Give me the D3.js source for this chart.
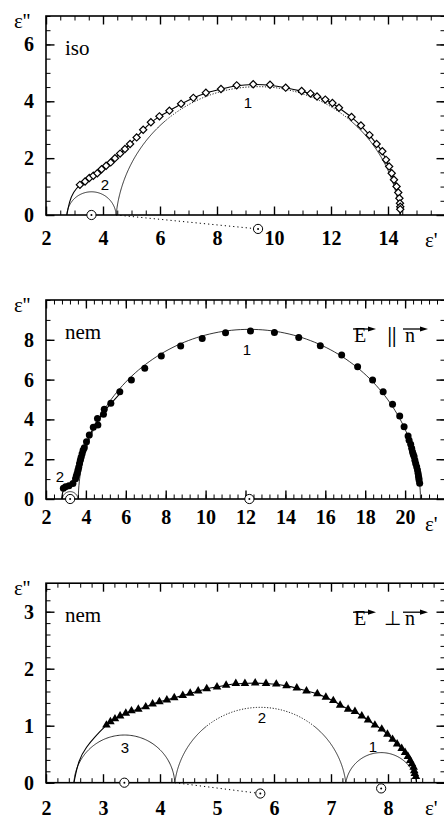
<!DOCTYPE html>
<html><head><meta charset="utf-8">
<script src="https://cdn.jsdelivr.net/npm/d3@7"></script>
<style>body{margin:0;background:#fff}svg{display:block}</style>
</head><body><svg id="c" width="444" height="820"></svg>
<script>
// ---------------- DATA ----------------
// Panel 1: isotropic phase (open diamonds)
const isoPoints = [[3.19,1.06],[3.37,1.18],[3.52,1.30],[3.66,1.38],[3.80,1.47],[3.95,1.61],[4.11,1.73],[4.27,1.85],[4.42,2.0],[4.60,2.16],[4.77,2.32],[4.95,2.50],[5.18,2.73],[5.41,3.00],[5.68,3.26],[5.98,3.47],[6.33,3.67],[6.74,3.91],[7.17,4.12],[7.61,4.30],[8.14,4.43],[8.69,4.56],[9.27,4.60],[9.86,4.58],[10.41,4.48],[10.97,4.36],[11.28,4.27],[11.51,4.17],[11.80,4.06],[12.05,3.94],[12.28,3.77],[12.72,3.45],[13.05,3.15],[13.35,2.81],[13.60,2.50],[13.80,2.24],[13.93,1.94],[14.04,1.71],[14.13,1.47],[14.21,1.24],[14.30,1.00],[14.36,0.79],[14.40,0.59],[14.42,0.41],[14.43,0.29],[14.43,0.20]];
const isoFitLead = [[2.73,0],[2.82,0.47],[2.96,0.82]];
const isoFitTail = [[14.43,0.08],[14.43,0]];
const isoArcNames = ["1","2"];
const isoArcLeft = [4.46, 2.73];
const isoArcRight = [14.42, 4.46];
const isoArcCenterY = [-0.49, -0.05];
const isoXTicks = [2,4,6,8,10,12,14];
const isoYTicks = [0,2,4,6];

// Panel 2: nematic, E || n (filled circles)
const parPoints = [[2.87,0.54],[2.98,0.62],[3.15,0.67],[3.35,0.78],[3.48,1.02],[3.52,1.15],[3.56,1.28],[3.60,1.45],[3.64,1.60],[3.68,1.78],[3.72,1.95],[3.76,2.10],[3.81,2.28],[3.86,2.45],[3.92,2.58],[4.03,2.88],[4.17,3.22],[4.37,3.60],[4.60,3.72],[4.58,4.05],[4.88,4.26],[4.92,4.51],[5.25,4.81],[5.70,5.39],[6.28,5.98],[6.95,6.57],[7.78,7.19],[8.75,7.69],[9.83,8.07],[11.0,8.36],[12.25,8.44],[13.45,8.37],[14.67,8.12],[15.75,7.70],[16.82,7.24],[17.62,6.65],[18.37,5.98],[18.9,5.39],[19.37,4.76],[19.73,4.17],[19.95,3.63],[20.15,3.17],[20.20,2.95],[20.28,2.75],[20.33,2.55],[20.37,2.38],[20.41,2.25],[20.45,2.13],[20.49,1.95],[20.53,1.79],[20.58,1.62],[20.62,1.46],[20.65,1.30],[20.67,1.16],[20.69,1.05],[20.70,0.95],[20.73,0.79]];
const parFit = [[2.78,0],[2.84,0.45],[3.0,0.62],[3.3,0.75],[3.48,1.0],[3.6,1.45],[3.75,2.05],[3.95,2.65],[4.2,3.25],[4.5,3.8],[4.9,4.4],[5.3,4.85],[5.8,5.4]];
const parArcNames = ["1","2"];
const parArcLeft = [3.62, 2.82];
const parArcRight = [20.77, 3.60];
const parArcCenterY = [-0.05, -0.02];
const parXTicks = [2,4,6,8,10,12,14,16,18,20];
const parYTicks = [0,2,4,6,8];

// Panel 3: nematic, E ⊥ n (filled triangles)
const perpPoints = [[3.06,1.01],[3.13,1.07],[3.21,1.12],[3.30,1.17],[3.40,1.22],[3.50,1.26],[3.62,1.29],[3.75,1.33],[3.87,1.38],[3.99,1.42],[4.12,1.45],[4.25,1.49],[4.40,1.53],[4.53,1.57],[4.67,1.61],[4.82,1.65],[5.0,1.68],[5.16,1.71],[5.33,1.74],[5.49,1.74],[5.67,1.75],[5.86,1.74],[6.04,1.73],[6.22,1.70],[6.40,1.66],[6.57,1.61],[6.76,1.56],[6.91,1.50],[7.04,1.44],[7.16,1.36],[7.30,1.29],[7.42,1.25],[7.54,1.17],[7.65,1.10],[7.77,1.01],[7.89,0.94],[7.99,0.85],[8.08,0.76],[8.16,0.68],[8.24,0.60],[8.30,0.53],[8.35,0.46],[8.39,0.39],[8.42,0.33],[8.45,0.27],[8.46,0.21],[8.47,0.16],[8.49,0.11]];
const perpFitLead = [[2.49,0],[2.57,0.40],[2.71,0.63],[2.86,0.81]];
const perpFitTail = [[8.50,0.04],[8.50,0]];
const perpArcNames = ["3","2","1"];
const perpArcLeft = [2.49, 4.26, 7.26];
const perpArcRight = [4.26, 7.26, 8.50];
const perpArcCenterY = [-0.05, -0.19, -0.10];
const perpXTicks = [2,3,4,5,6,7,8];
const perpYTicks = [0,1,2,3];

// ---------------- DRAWING ----------------
const svg = d3.select('#c');
const X0 = 46, X1 = 445;
const SERIF = 'Liberation Serif, Times New Roman, serif';
const SANS = 'Liberation Sans, Arial, sans-serif';

function txt(g, x, y, s, opt) {
  return g.append('text').attr('x', x).attr('y', y)
    .attr('font-family', opt.family || SERIF).attr('font-size', opt.size || 19)
    .attr('font-weight', opt.weight || 'normal').attr('fill', '#000')
    .attr('text-anchor', opt.anchor || 'start').text(s);
}

function arcsFrom(names, lefts, rights, cys, dotted) {
  return names.map((n,i)=>({name:n, l:lefts[i], r:rights[i], cy:cys[i], dotted: dotted[i]}));
}

const panels = [
  { top:16, bottom:215, xDom:[2,16], yDom:[0,7], xTicks:isoXTicks, xMinor:0.5, yTicks:isoYTicks, yMinor:0.5, xPad:16,
    points:isoPoints, marker:'diamond', fit: isoFitLead.concat(isoPoints, isoFitTail),
    arcs: arcsFrom(isoArcNames, isoArcLeft, isoArcRight, isoArcCenterY, [true,false]),
    connector: 0, labelText:'iso', field:null,
    arcLabels: [[248,108],[105,190]] },
  { top:300, bottom:499, xDom:[2,22], yDom:[0,10], xTicks:parXTicks, xMinor:0.4, yTicks:parYTicks, yMinor:1, xPad:11,
    points:parPoints, marker:'circle', fit: parFit,
    arcs: arcsFrom(parArcNames, parArcLeft, parArcRight, parArcCenterY, [false,false]),
    connector: null, labelText:'nem', field:'par',
    arcLabels: [[247,355],[60,482]] },
  { top:583.2, bottom:782.7, xDom:[2,9], yDom:[0,3.5], xTicks:perpXTicks, xMinor:0.2, yTicks:perpYTicks, yMinor:0.2, xPad:18,
    points:perpPoints, marker:'triangle', fit: perpFitLead.concat(perpPoints, perpFitTail),
    arcs: arcsFrom(perpArcNames, perpArcLeft, perpArcRight, perpArcCenterY, [false,true,false]),
    connector: 1, labelText:'nem', field:'perp',
    arcLabels: [[125,753],[262,723],[373,752]] }
];

panels.forEach(cfg => {
  const x = d3.scaleLinear().domain(cfg.xDom).range([X0, X1]);
  const y = d3.scaleLinear().domain(cfg.yDom).range([cfg.bottom, cfg.top]);
  const g = svg.append('g');
  const line = d3.line().x(d=>x(d[0])).y(d=>y(d[1]));

  // ticks (all inward, mirrored on the four sides)
  const minorX = d3.range(cfg.xDom[0], cfg.xDom[1]+1e-9, cfg.xMinor).map(v=>+v.toFixed(4));
  const minorY = d3.range(cfg.yDom[0], cfg.yDom[1]+1e-9, cfg.yMinor).map(v=>+v.toFixed(4));
  const makers = [
    [()=>d3.axisBottom(x), cfg.bottom, 'x', true], [()=>d3.axisTop(x), cfg.top, 'x', false],
    [()=>d3.axisLeft(y), X0, 'y', true], [()=>d3.axisRight(y), X1, 'y', false]
  ];
  makers.forEach(([mk,pos,dir,labeled])=>{
    const tr = dir==='x' ? `translate(0,${pos})` : `translate(${pos},0)`;
    const mg = g.append('g').attr('transform', tr);
    mg.call(mk().tickValues(dir==='x'?minorX:minorY).tickSizeInner(-4.5).tickSizeOuter(0).tickFormat(''));
    mg.select('.domain').remove();
    mg.selectAll('line').attr('stroke-width',1);
    const Mg = g.append('g').attr('transform', tr);
    Mg.call(mk().tickValues(dir==='x'?cfg.xTicks:cfg.yTicks).tickSizeInner(-8.5).tickSizeOuter(0)
       .tickPadding(dir==='x'?cfg.xPad:12).tickFormat(labeled ? d3.format('d') : ''));
    Mg.attr('font-family', SERIF).attr('font-size', 20).attr('font-weight','bold');
    Mg.select('.domain').remove();
    Mg.selectAll('line').attr('stroke-width',1.4);
    Mg.selectAll('text').attr('fill','#000');
  });
  // frame
  g.append('rect').attr('x',X0).attr('y',cfg.top).attr('width',X1-X0).attr('height',cfg.bottom-cfg.top)
    .attr('fill','none').attr('stroke','#000').attr('stroke-width',1.6);

  // component arcs
  cfg.arcs.forEach(a=>{
    const cx=(a.l+a.r)/2, half=(a.r-a.l)/2, r=Math.hypot(half,a.cy);
    const t0=Math.asin(-a.cy/r), t1=Math.PI-t0;
    const pts=(s,e)=>d3.range(0,121).map(i=>{const t=s+(e-s)*i/120; return [cx+r*Math.cos(t), a.cy+r*Math.sin(t)];});
    if (a.dotted) {
      const s = 44*Math.PI/180;
      g.append('path').attr('d', line(pts(t0+s,t1-s))).attr('fill','none').attr('stroke','#000')
        .attr('stroke-width',0.9).attr('stroke-dasharray','1.2,1.6');
      g.append('path').attr('d', line(pts(t0,t0+s))).attr('fill','none').attr('stroke','#000').attr('stroke-width',0.8);
      g.append('path').attr('d', line(pts(t1-s,t1))).attr('fill','none').attr('stroke','#000').attr('stroke-width',0.8);
    } else {
      g.append('path').attr('d', line(pts(t0,t1))).attr('fill','none').attr('stroke','#000').attr('stroke-width',0.8);
    }
    a.cx = cx;
  });
  // dotted connector from the arc junction to the depressed centre
  if (cfg.connector !== null) {
    const a = cfg.arcs[cfg.connector];
    g.append('path').attr('d', line([[a.l,0],[a.cx,a.cy]])).attr('fill','none').attr('stroke','#000')
      .attr('stroke-width',1).attr('stroke-dasharray','1.2,3');
  }
  // total fit line
  g.append('path').attr('d', d3.line().x(d=>x(d[0])).y(d=>y(d[1])).curve(d3.curveBasis)(cfg.fit))
    .attr('fill','none').attr('stroke','#000').attr('stroke-width',1.1);

  // data markers
  const mk = g.append('g');
  if (cfg.marker==='diamond') {
    mk.selectAll('path').data(cfg.points).join('path')
      .attr('d', d3.symbol(d3.symbolSquare, 26)())
      .attr('transform', d=>`translate(${x(d[0])},${y(d[1])}) rotate(45)`)
      .attr('fill','#fff').attr('stroke','#000').attr('stroke-width',1.2);
  } else if (cfg.marker==='circle') {
    mk.selectAll('circle').data(cfg.points).join('circle')
      .attr('cx', d=>x(d[0])).attr('cy', d=>y(d[1])).attr('r',3.5).attr('fill','#000');
  } else {
    mk.selectAll('path').data(cfg.points).join('path')
      .attr('d', d3.symbol(d3.symbolTriangle, 32)())
      .attr('transform', d=>`translate(${x(d[0])},${y(d[1])})`).attr('fill','#000');
  }

  // centre markers
  cfg.arcs.forEach(a=>{
    const cy = Math.abs(a.cy) < 0.06 ? 0 : a.cy;
    g.append('circle').attr('cx',x(a.cx)).attr('cy',y(cy)).attr('r',4.6)
      .attr('fill','#fff').attr('stroke','#000').attr('stroke-width',1);
    g.append('circle').attr('cx',x(a.cx)).attr('cy',y(cy)).attr('r',1).attr('fill','#000');
  });

  // arc numbers
  cfg.arcs.forEach((a,i)=>{
    txt(g, cfg.arcLabels[i][0], cfg.arcLabels[i][1], a.name, {family:SANS, size:15, anchor:'middle'});
  });

  // axis titles
  txt(g, 14, cfg.top+12, "ε''", {size:21});
  txt(g, 425, cfg.bottom+32, "ε'", {size:21});

  // phase label
  txt(g, 65, cfg.top+39, cfg.labelText, {size:21});

  // field orientation label
  if (cfg.field) {
    const base = cfg.top + 42, ay = cfg.top + 29;
    txt(g, 354, base, 'E', {size:20});
    txt(g, 392, base, cfg.field==='par' ? '||' : '⊥', {size:20, anchor:'middle', weight: cfg.field==='par'?'bold':'normal'});
    txt(g, 405, base, 'n', {size:20});
    [[353,376],[403,428]].forEach(([a,b])=>{
      g.append('line').attr('x1',a).attr('x2',b-5).attr('y1',ay).attr('y2',ay).attr('stroke','#000').attr('stroke-width',1.3);
      g.append('path').attr('d',`M${b},${ay} L${b-8},${ay-2.6} L${b-8},${ay+2.6} Z`).attr('fill','#000');
    });
  }
});
</script>
</body></html>
